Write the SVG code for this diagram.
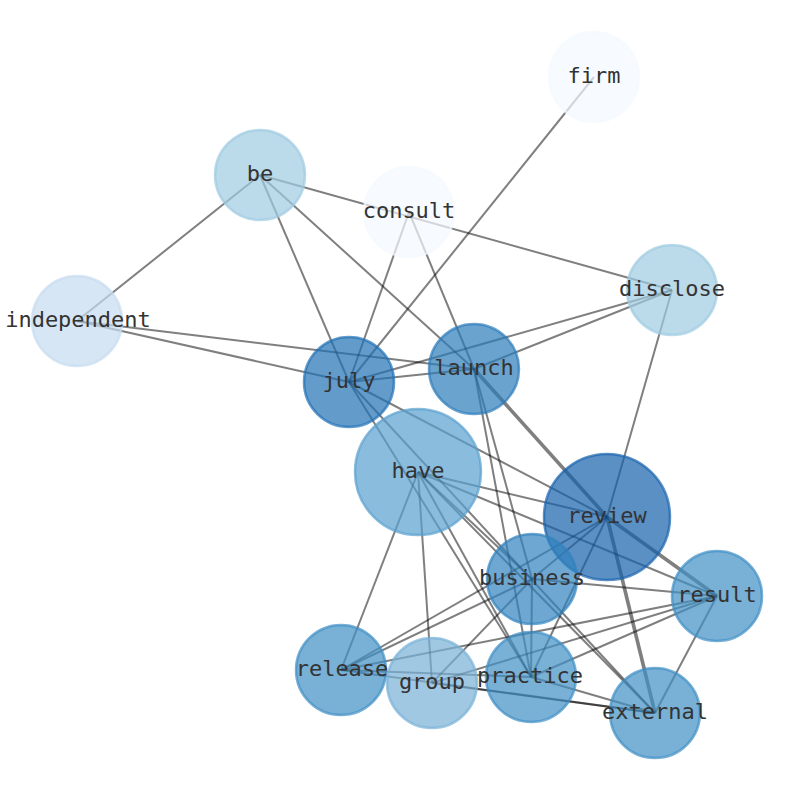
<svg xmlns="http://www.w3.org/2000/svg" width="794" height="790" viewBox="0 0 794 790">
<style>
.e{stroke:#000;stroke-opacity:0.5;stroke-width:2;fill:none}
.t{stroke-width:3.6}
.n circle{fill-opacity:0.7;stroke-opacity:0.7;stroke-width:2.5}
.n text{font-family:"DejaVu Sans Mono","Liberation Mono",monospace;font-size:22px;fill:#333;text-anchor:middle}
</style>
<rect width="794" height="790" fill="#fff"/>
<g id="edges">
<line class="e" x1="260" y1="175" x2="77" y2="321"/>
<line class="e" x1="260" y1="175" x2="672" y2="290"/>
<line class="e" x1="260" y1="175" x2="349" y2="382"/>
<line class="e" x1="260" y1="175" x2="474" y2="369"/>
<line class="e" x1="77" y1="321" x2="349" y2="382"/>
<line class="e" x1="77" y1="321" x2="474" y2="369"/>
<line class="e" x1="409" y1="212" x2="349" y2="382"/>
<line class="e" x1="409" y1="212" x2="474" y2="369"/>
<line class="e" x1="594" y1="77" x2="349" y2="382"/>
<line class="e" x1="672" y1="290" x2="349" y2="382"/>
<line class="e" x1="672" y1="290" x2="474" y2="369"/>
<line class="e" x1="672" y1="290" x2="607" y2="517"/>
<line class="e" x1="349" y1="382" x2="474" y2="369"/>
<line class="e" x1="349" y1="382" x2="607" y2="517"/>
<line class="e" x1="349" y1="382" x2="531" y2="677"/>
<line class="e" x1="349" y1="382" x2="655" y2="713"/>
<line class="e t" x1="474" y1="369" x2="607" y2="517"/>
<line class="e" x1="474" y1="369" x2="532" y2="579"/>
<line class="e" x1="474" y1="369" x2="531" y2="677"/>
<line class="e" x1="418" y1="472" x2="607" y2="517"/>
<line class="e" x1="418" y1="472" x2="717" y2="596"/>
<line class="e" x1="418" y1="472" x2="532" y2="579"/>
<line class="e" x1="418" y1="472" x2="655" y2="713"/>
<line class="e" x1="418" y1="472" x2="531" y2="677"/>
<line class="e" x1="418" y1="472" x2="432" y2="683"/>
<line class="e" x1="418" y1="472" x2="341" y2="670"/>
<line class="e t" x1="607" y1="517" x2="717" y2="596"/>
<line class="e t" x1="607" y1="517" x2="655" y2="713"/>
<line class="e" x1="607" y1="517" x2="532" y2="579"/>
<line class="e" x1="607" y1="517" x2="341" y2="670"/>
<line class="e" x1="607" y1="517" x2="531" y2="677"/>
<line class="e" x1="532" y1="579" x2="717" y2="596"/>
<line class="e" x1="532" y1="579" x2="531" y2="677"/>
<line class="e" x1="532" y1="579" x2="341" y2="670"/>
<line class="e" x1="532" y1="579" x2="432" y2="683"/>
<line class="e" x1="717" y1="596" x2="341" y2="670"/>
<line class="e" x1="717" y1="596" x2="432" y2="683"/>
<line class="e" x1="717" y1="596" x2="531" y2="677"/>
<line class="e" x1="717" y1="596" x2="655" y2="713"/>
<line class="e" x1="341" y1="670" x2="531" y2="677"/>
<line class="e" x1="341" y1="670" x2="655" y2="713"/>
<line class="e" x1="432" y1="683" x2="655" y2="713"/>
<line class="e" x1="531" y1="677" x2="655" y2="713"/>
</g>
<g id="firm" class="n"><circle cx="594" cy="77" r="45" fill="#f4f9ff" stroke="#f4f9ff"/><text x="594" y="83">firm</text></g>
<g id="be" class="n"><circle cx="260" cy="175" r="45" fill="#9ecae1" stroke="#9ecae1"/><text x="260" y="181">be</text></g>
<g id="consult" class="n"><circle cx="409" cy="212" r="45" fill="#f4f9ff" stroke="#f4f9ff"/><text x="409" y="218">consult</text></g>
<g id="disclose" class="n"><circle cx="672" cy="290" r="45" fill="#9ecae1" stroke="#9ecae1"/><text x="672" y="296">disclose</text></g>
<g id="independent" class="n"><circle cx="77" cy="321" r="45" fill="#c6dbef" stroke="#c6dbef"/><text x="78" y="327">independent</text></g>
<g id="july" class="n"><circle cx="349" cy="382" r="45" fill="#2171b5" stroke="#2171b5"/><text x="349" y="388">july</text></g>
<g id="launch" class="n"><circle cx="474" cy="369" r="45" fill="#2c7cba" stroke="#2c7cba"/><text x="474" y="375">launch</text></g>
<g id="have" class="n"><circle cx="418" cy="472" r="63" fill="#58a0ce" stroke="#58a0ce"/><text x="418" y="478">have</text></g>
<g id="review" class="n"><circle cx="607" cy="517" r="63" fill="#1661ac" stroke="#1661ac"/><text x="607" y="523">review</text></g>
<g id="business" class="n"><circle cx="532" cy="579" r="45" fill="#3182bd" stroke="#3182bd"/><text x="532" y="585">business</text></g>
<g id="result" class="n"><circle cx="717" cy="596" r="45" fill="#3e8fc5" stroke="#3e8fc5"/><text x="717" y="602">result</text></g>
<g id="release" class="n"><circle cx="341" cy="670" r="45" fill="#3f8fc5" stroke="#3f8fc5"/><text x="342" y="676">release</text></g>
<g id="group" class="n"><circle cx="432" cy="683" r="45" fill="#77b1d7" stroke="#77b1d7"/><text x="432" y="689">group</text></g>
<g id="practice" class="n"><circle cx="531" cy="677" r="45" fill="#3f8fc5" stroke="#3f8fc5"/><text x="530" y="683">practice</text></g>
<g id="external" class="n"><circle cx="655" cy="713" r="45" fill="#3f8fc5" stroke="#3f8fc5"/><text x="655" y="719">external</text></g>
</svg>
